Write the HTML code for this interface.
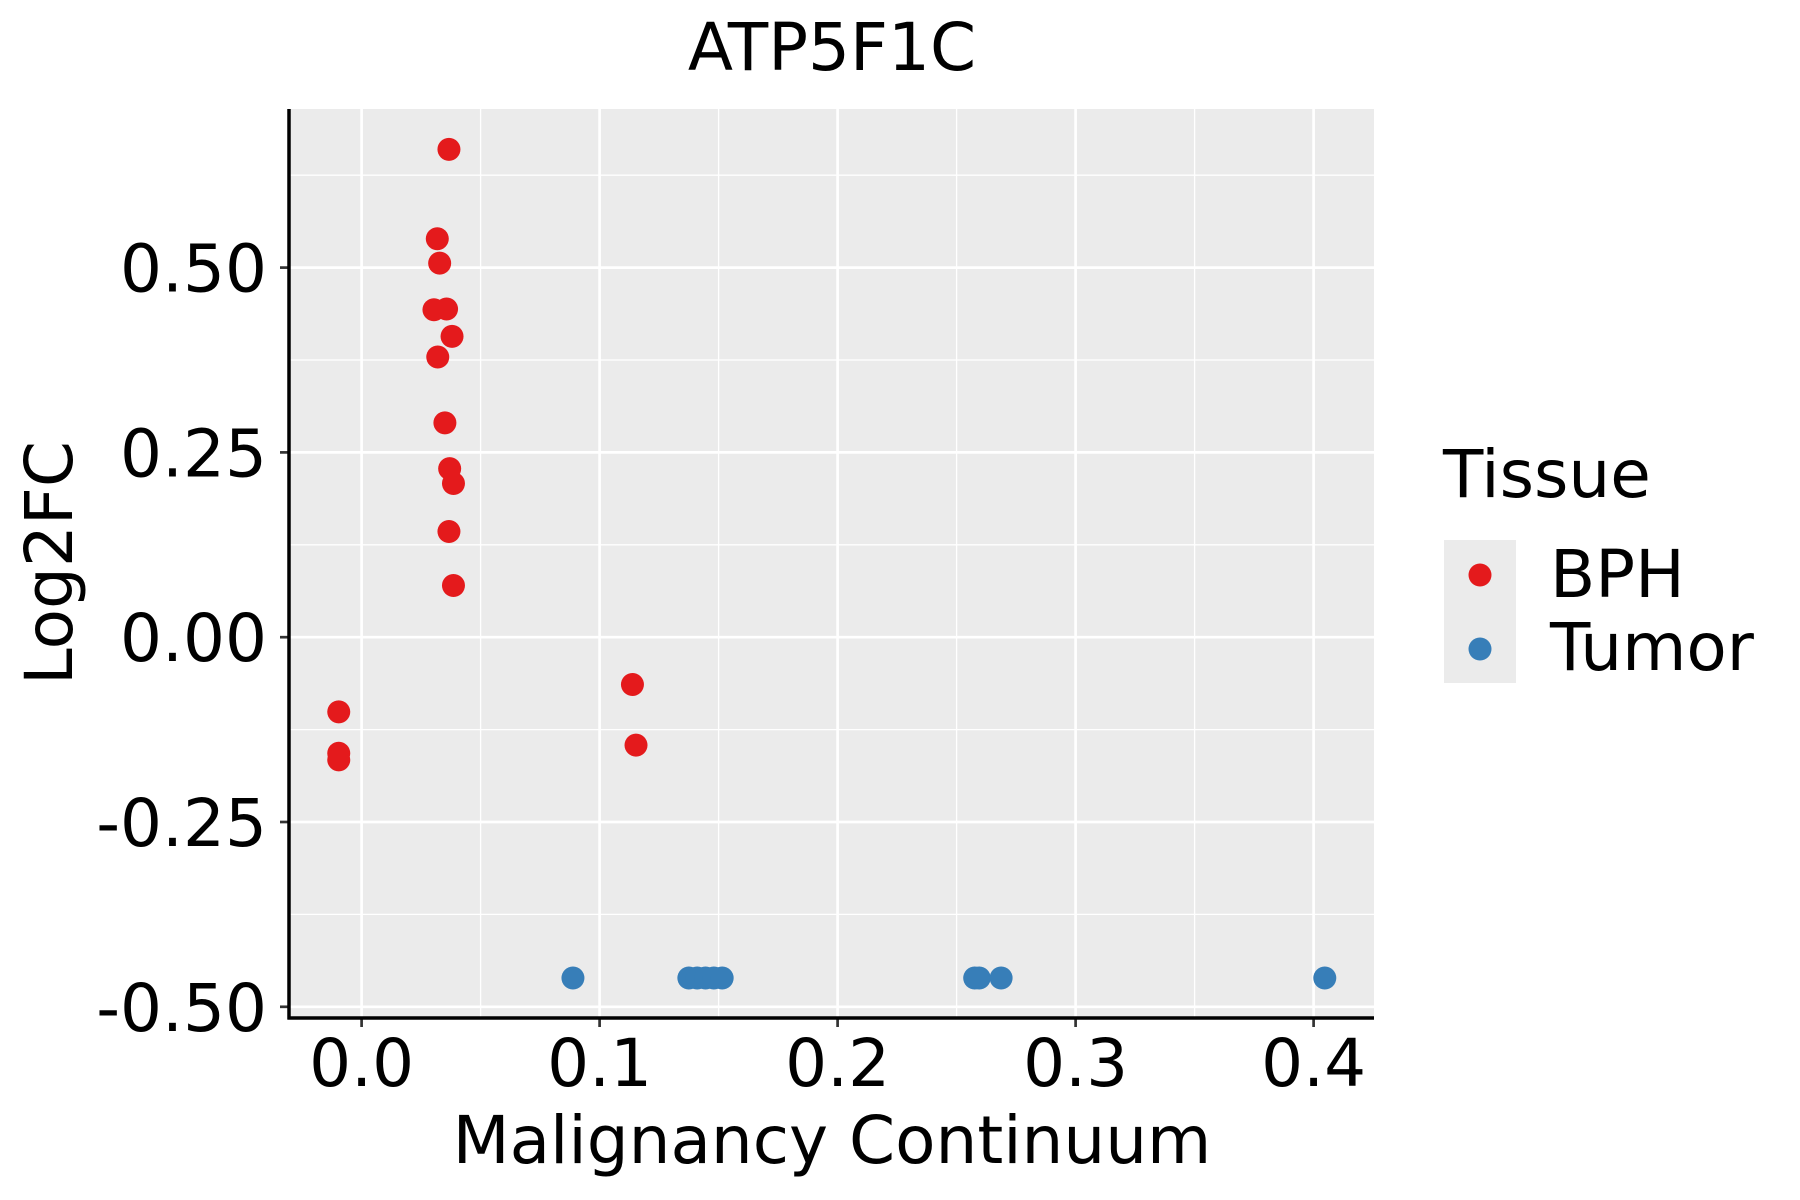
<!DOCTYPE html>
<html><head><meta charset="utf-8"><style>body{margin:0;background:#fff}svg{display:block;font-family:"DejaVu Sans","Liberation Sans",sans-serif}</style></head>
<body>
<svg id="chart" width="1800" height="1200" viewBox="0 0 1800 1200" xmlns="http://www.w3.org/2000/svg">
<rect x="289" y="109" width="1085" height="909" fill="#ebebeb"/>
<g id="grid"></g>
<g id="points"></g>
<g id="axes"></g>
<text x="832" y="70" font-size="66" text-anchor="middle">ATP5F1C</text>
<text x="832" y="1163" font-size="66" text-anchor="middle">Malignancy Continuum</text>
<text transform="translate(72,563) rotate(-90)" font-size="66" text-anchor="middle">Log2FC</text>
<g>
<text x="1443" y="497" font-size="66">Tissue</text>
<rect x="1444" y="540" width="72" height="143" fill="#ebebeb"/>
<circle cx="1480" cy="575" r="11.5" fill="#e41a1c"/>
<circle cx="1480" cy="649" r="11.5" fill="#377eb8"/>
<text x="1550" y="597" font-size="66">BPH</text>
<text x="1550" y="670" font-size="66">Tumor</text>
</g>
</svg>
<script>
const bphX=[0.0367,0.0318,0.0328,0.0304,0.0357,0.038,0.032,0.035,0.037,0.0386,0.0367,0.0386,-0.0096,-0.0096,-0.0096,0.1138,0.1153];
const bphY=[0.660,0.539,0.506,0.443,0.444,0.407,0.379,0.290,0.228,0.208,0.143,0.070,-0.101,-0.157,-0.166,-0.064,-0.146];
const tumorX=[0.0888,0.1375,0.141,0.1445,0.148,0.1515,0.2576,0.2595,0.2687,0.4047];
const tumorY=[-0.461,-0.461,-0.461,-0.461,-0.461,-0.461,-0.461,-0.461,-0.461,-0.461];
const xTicks=[0,0.1,0.2,0.3,0.4];
const xTickLabels=["0.0","0.1","0.2","0.3","0.4"];
const yTicks=[0.5,0.25,0,-0.25,-0.5];
const yTickLabels=["0.50","0.25","0.00","-0.25","-0.50"];
const NS="http://www.w3.org/2000/svg";
const L=289,R=1374,T=109,B=1018;
function sx(v){return 361.6+v*2380;}
function sy(v){return 637.2-v*739.2;}
function mk(tag,attrs,parent){const e=document.createElementNS(NS,tag);for(const k in attrs)e.setAttribute(k,attrs[k]);parent.appendChild(e);return e;}
const grid=document.getElementById('grid'),pts=document.getElementById('points'),axes=document.getElementById('axes');
for(let i=0;i<xTicks.length;i++){const v=xTicks[i]+0.05;if(sx(v)<R){const l=mk('line',{x1:sx(v),x2:sx(v),y1:T,y2:B,stroke:'#fff','stroke-width':1.3},grid);

}}
for(let i=0;i<yTicks.length;i++){const v=yTicks[i]+0.125;if(sy(v)>T){const l=mk('line',{x1:L,x2:R,y1:sy(v),y2:sy(v),stroke:'#fff','stroke-width':1.3},grid);

}}
for(let i=0;i<xTicks.length;i++){const x=sx(xTicks[i]);
const l=mk('line',{x1:x,x2:x,y1:T,y2:B,stroke:'#fff','stroke-width':2.7},grid);


const t=mk('line',{x1:x,x2:x,y1:B,y2:B+9,stroke:'#333','stroke-width':2.7},axes);


const tx=mk('text',{x:x,y:1086,'font-size':66,'text-anchor':'middle',fill:'#000'},axes);tx.textContent=xTickLabels[i];

}
for(let i=0;i<yTicks.length;i++){const y=sy(yTicks[i]);
const l=mk('line',{x1:L,x2:R,y1:y,y2:y,stroke:'#fff','stroke-width':2.7},grid);


const t=mk('line',{x1:L-9,x2:L,y1:y,y2:y,stroke:'#333','stroke-width':2.7},axes);


const tx=mk('text',{x:267,y:y+24,'font-size':66,'text-anchor':'end',fill:'#000'},axes);tx.textContent=yTickLabels[i];

}
const ax=mk('line',{x1:L,x2:L,y1:T,y2:B+1.5,stroke:'#000','stroke-width':3.5},axes);


const ax2=mk('line',{x1:L-1.5,x2:R,y1:B,y2:B,stroke:'#000','stroke-width':3.5},axes);


for(let i=0;i<bphX.length;i++){const c=mk('circle',{cx:sx(bphX[i]),cy:sy(bphY[i]),r:11.5,fill:'#e41a1c'},pts);

}
for(let i=0;i<tumorX.length;i++){const c=mk('circle',{cx:sx(tumorX[i]),cy:sy(tumorY[i]),r:11.5,fill:'#377eb8'},pts);

}
</script>
</body></html>
